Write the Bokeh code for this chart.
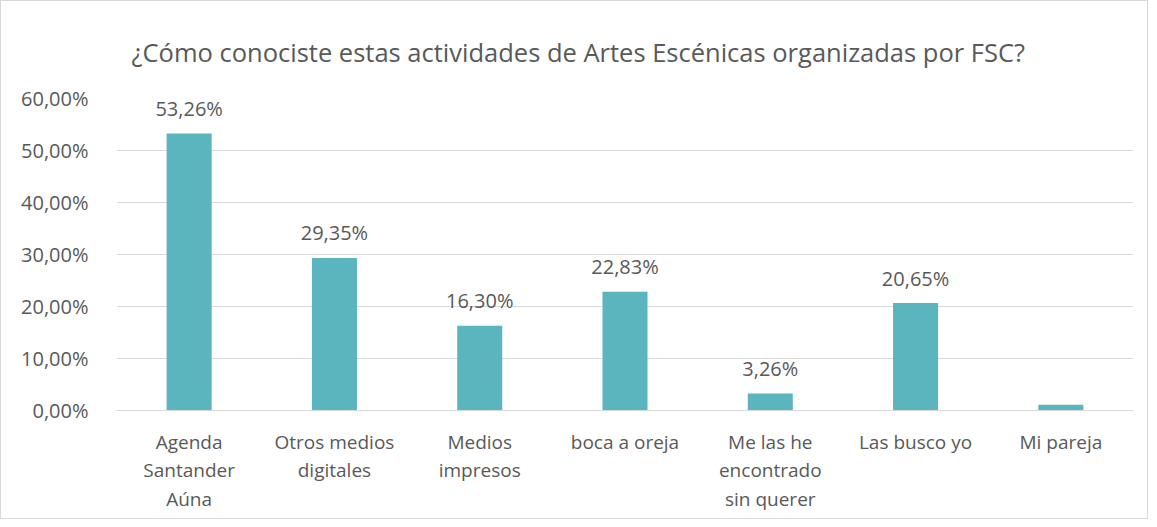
from bokeh.plotting import figure
from bokeh.models import ColumnDataSource, FactorRange, Range1d, FixedTicker
from bokeh.core.properties import value
from bokeh.embed import file_html
from bokeh.resources import INLINE

title = "¿Cómo conociste estas actividades de Artes Escénicas organizadas por FSC?"
categories = ["Agenda\nSantander\nAúna", "Otros medios\ndigitales", "Medios\nimpresos",
              "boca a oreja", "Me las he\nencontrado\nsin querer", "Las busco yo", "Mi pareja"]
values = [53.26, 29.35, 16.30, 22.83, 3.26, 20.65, 1.09]
labels = ["53,26%", "29,35%", "16,30%", "22,83%", "3,26%", "20,65%", ""]
yticks = [0, 10, 20, 30, 40, 50, 60]
ytick_labels = ["0,00%", "10,00%", "20,00%", "30,00%", "40,00%", "50,00%", "60,00%"]

FONT = "Open Sans"
TXT = "#595959"
W, H = 1148, 519

src = ColumnDataSource(dict(x=categories, top=values, lab=labels))

p = figure(x_range=FactorRange(*categories, range_padding=0), y_range=Range1d(0, 60),
           width=W, height=H, output_backend="svg", toolbar_location=None,
           title=title,
           min_border_left=115, min_border_right=16, min_border_top=97, min_border_bottom=H - 409)
p.styles = {"border": "1px solid #d9d9d9"}
p.outline_line_color = None
p.background_fill_color = "white"

p.title.align = "left"
p.title.offset = 15
p.title.standoff = 60
p.title.text_font = FONT
p.title.text_font_size = "25.5px"
p.title.text_font_style = "normal"
p.title.text_color = TXT

p.vbar(x="x", top="top", width=0.31, source=src, color="#5AB5BF", line_color=None)
p.text(x="x", y="top", text="lab", source=src, text_align="center", text_baseline="middle",
       y_offset=-25, text_font=value(FONT), text_font_size="20px", text_color=TXT)

p.xgrid.grid_line_color = None
p.ygrid.grid_line_color = "#D9D9D9"
p.ygrid.grid_line_width = 1
p.yaxis.ticker = FixedTicker(ticks=yticks)
p.yaxis.major_label_overrides = {t: l for t, l in zip(yticks, ytick_labels)}
for ax in (p.xaxis, p.yaxis):
    ax.axis_line_color = None
    ax.major_tick_line_color = None
    ax.minor_tick_line_color = None
    ax.major_label_text_font = FONT
    ax.major_label_text_font_size = "20px"
    ax.major_label_text_color = TXT
p.xaxis.axis_line_color = "#D9D9D9"
p.xaxis.major_label_text_font_size = "19px"
p.xaxis.major_label_text_line_height = 1.1
p.xaxis.major_label_standoff = 12
p.yaxis.major_label_standoff = 22

open("out.html", "w").write(file_html(p, INLINE))
